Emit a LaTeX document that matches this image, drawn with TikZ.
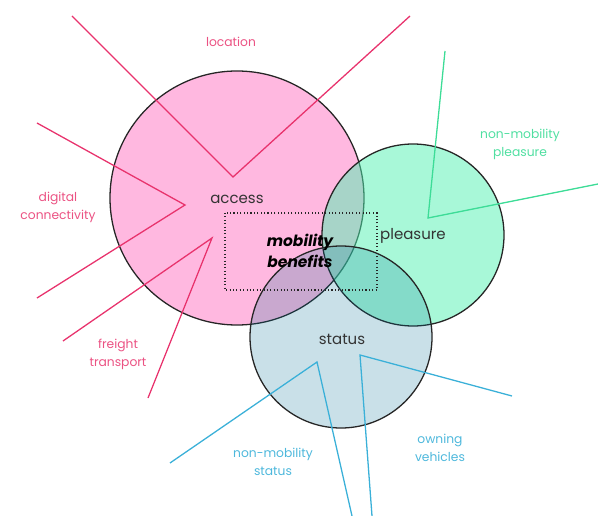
\documentclass[tikz,border=0pt]{standalone}
\usepackage{fontspec}
\setmainfont{Poppins}
\usetikzlibrary{arrows}

\definecolor{accessfill}{RGB}{255,184,224}
\definecolor{pleasurefill}{RGB}{81,241,177}
\definecolor{statusfill}{RGB}{0,109,147}
\definecolor{accessline}{HTML}{E8336D}
\definecolor{pleasureline}{HTML}{3DDC97}
\definecolor{statusline}{HTML}{3AB0D8}

\tikzset{
  ring/.style = {draw=black!85, line width=1.1pt},
  spoke/.style = {line width=1.1pt},
  theme/.style = {font=\fontsize{12.8}{15}\selectfont, text=black!80},
  factor/.style = {font=\fontsize{10.5}{15.5}\selectfont, align=center},
}

\begin{document}
\begin{tikzpicture}[x=0.03cm, y=-0.03cm]
  \useasboundingbox (0,0) rectangle (598,516);
  % the three themes, later ones see-through
  \filldraw[ring, fill=accessfill] (237,198) circle (127);
  \filldraw[ring, fill=pleasurefill, fill opacity=0.5] (413,235) circle (91);
  \filldraw[ring, fill=statusfill, fill opacity=0.21] (341,337) circle (91);
  \draw[black!85, line width=0.9pt, dotted] (225,213) rectangle (377,290);

  % spokes of each theme
  \draw[spoke, accessline] (72,16) -- (233,177) -- (410,16);
  \draw[spoke, accessline] (37,123) -- (185,205) -- (37,298);
  \draw[spoke, accessline] (63,341) -- (212,238) -- (148,398);
  \draw[spoke, pleasureline] (445,51) -- (428,218) -- (598,184);
  \draw[spoke, statusline] (170,463) -- (317,362) -- (352,516);
  \draw[spoke, statusline] (372,516) -- (360,355) -- (512,396);

  \node (access)   at (237,199) [theme] {access};
  \node (pleasure) at (413,236) [theme] {pleasure};
  \node (status)   at (342,339) [theme] {status};
  \node (benefits) at (300,251) [theme, align=center, text=black,
    font=\fontsize{13.2}{18}\selectfont\bfseries\itshape] {mobility\\ benefits};

  \node (location) at (231,42)  [factor, text=accessline!85] {location};
  \node (digital)  at (58,207)  [factor, text=accessline!85] {digital\\ connectivity};
  \node (freight)  at (118,354) [factor, text=accessline!85] {freight\\ transport};
  \node (nmpleas)  at (520,144) [factor, text=pleasureline!90] {non-mobility\\ pleasure};
  \node (nmstatus) at (273,462) [factor, text=statusline!90] {non-mobility\\ status};
  \node (owning)   at (440,448) [factor, text=statusline!90] {owning\\ vehicles};
\end{tikzpicture}
\end{document}
